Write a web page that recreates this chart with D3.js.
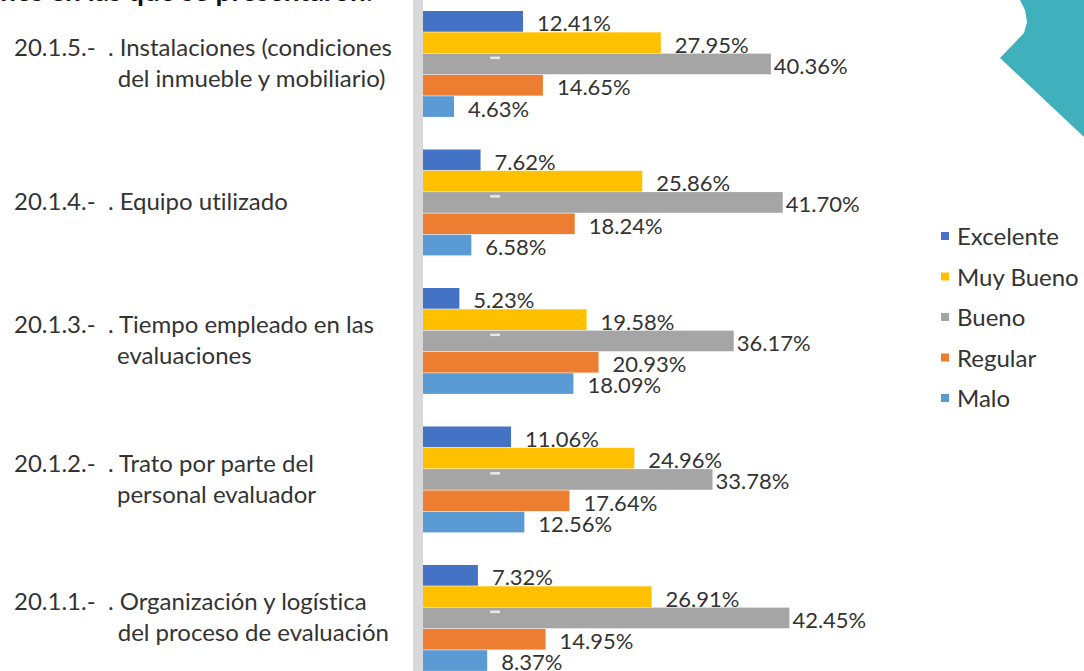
<!DOCTYPE html>
<html>
<head>
<meta charset="utf-8">
<script src="https://cdn.jsdelivr.net/npm/d3@7/dist/d3.min.js"></script>
<style>
  body { margin: 0; background: #fff; }
  svg { display: block; font-family: Lato, "Liberation Sans", sans-serif; font-variant-ligatures: none; }
</style>
</head>
<body>
<svg></svg>
<script>
// data, top group first
var categories = ["20.1.5", "20.1.4", "20.1.3", "20.1.2", "20.1.1"];
var categoryPrefixes = ["20.1.5.-  . ", "20.1.4.-  . ", "20.1.3.-  . ", "20.1.2.-  . ", "20.1.1.-  . "];
var categoryLines = [
  ["Instalaciones (condiciones", "del inmueble y mobiliario)"],
  ["Equipo utilizado"],
  ["Tiempo empleado en las", "evaluaciones"],
  ["Trato por parte del", "personal evaluador"],
  ["Organización y logística", "del proceso de evaluación"]
];
var series = ["Excelente", "Muy Bueno", "Bueno", "Regular", "Malo"];
var excelente = [12.41, 7.62, 5.23, 11.06, 7.32];
var muyBueno = [27.95, 25.86, 19.58, 24.96, 26.91];
var bueno = [40.36, 41.7, 36.17, 33.78, 42.45];
var regular = [14.65, 18.24, 20.93, 17.64, 14.95];
var malo = [4.63, 6.58, 18.09, 12.56, 8.37];
var title = "Condiciones en las que se presentaron:";

var colors = ["#4472C4", "#FFC000", "#A5A5A5", "#ED7D31", "#5B9BD5"];
var seriesValues = [excelente, muyBueno, bueno, regular, malo];

var screen = { width: 1084, height: 671 };

var svg = d3.select("svg").attr("width", screen.width).attr("height", screen.height);

var makeTranslateString = function (x, y) {
  return "translate(" + x + "," + y + ")";
};

//teal corner decoration
svg.append("path")
  .attr("d", "M1020,0 L1025,10 L1027,22 L1024,33 L1000,58 L1084,137 L1084,0 Z")
  .attr("fill", "#41B0BD");

//title, mostly above the top edge of the picture
svg.append("text")
  .attr("x", 373)
  .attr("y", 0.5)
  .attr("text-anchor", "end")
  .attr("font-size", 28)
  .attr("font-weight", "bold")
  .attr("fill", "#111")
  .text(title);

var xScale = d3.scaleLinear().domain([0, 45]).range([413, 812]);

var groupScale = d3.scaleBand()
  .domain(categories)
  .range([11, 671.5])
  .paddingInner(0.231)
  .paddingOuter(0);

var seriesScale = d3.scaleBand()
  .domain(series)
  .range([0, groupScale.bandwidth()]);

var colorScale = d3.scaleOrdinal().domain(series).range(colors);

var rows = categories.map(function (cat, i) {
  return {
    category: cat,
    prefix: categoryPrefixes[i],
    lines: categoryLines[i],
    values: series.map(function (s, j) {
      return { series: s, value: seriesValues[j][i] };
    })
  };
});

var groups = svg.selectAll("g.group")
  .data(rows)
  .enter()
  .append("g")
  .attr("class", "group")
  .attr("transform", function (row) {
    return makeTranslateString(0, groupScale(row.category));
  });

//each bar is followed by its label so the next bar sits on top of it
var entries = groups.selectAll("g.entry")
  .data(function (row) { return row.values; })
  .enter()
  .append("g")
  .attr("class", "entry");

entries.append("rect")
  .attr("x", xScale(0))
  .attr("y", function (d) { return seriesScale(d.series); })
  .attr("width", function (d) { return xScale(d.value) - xScale(0); })
  .attr("height", seriesScale.bandwidth() - 0.6)
  .attr("fill", function (d) { return colorScale(d.series); });

//little light dash that shows on every gray bar
entries.filter(function (d) { return d.series == "Bueno"; })
  .append("rect")
  .attr("x", xScale(8.7))
  .attr("y", function (d) { return seriesScale(d.series) + 3; })
  .attr("width", 10)
  .attr("height", 2.5)
  .attr("fill", "#E8E8E8");

entries.append("text")
  .attr("x", function (d) {
    return xScale(d.value) + (d.series == "Bueno" ? 3 : 14);
  })
  .attr("y", function (d) {
    return seriesScale(d.series) + seriesScale.bandwidth() - 1;
  })
  .attr("font-size", 22)
  .attr("fill", "#333")
  .text(function (d) { return d.value.toFixed(2) + "%"; });

//category labels, the second line hangs under the text after the number
var center = groupScale.bandwidth() / 2;
var labelX = 14;
groups.each(function (row) {
  var g = d3.select(this);
  var twoLines = row.lines.length > 1;
  var first = g.append("text")
    .attr("x", labelX)
    .attr("y", twoLines ? center - 8 : center + 7)
    .attr("font-size", 24)
    .attr("fill", "#333")
    .style("white-space", "pre")
    .text(row.prefix + row.lines[0]);
  if (twoLines) {
    var indent = first.node().getSubStringLength(0, row.prefix.length);
    g.append("text")
      .attr("x", labelX + indent - 2)
      .attr("y", center + 23)
      .attr("font-size", 24)
      .attr("fill", "#333")
      .text(row.lines[1]);
  }
});

//gray vertical axis band drawn over the bar starts
svg.append("rect")
  .attr("x", xScale(0))
  .attr("y", 0)
  .attr("width", 10)
  .attr("height", screen.height)
  .attr("fill", "#D9D9D9");

//legend
var legend = svg.append("g")
  .attr("class", "legend")
  .attr("transform", makeTranslateString(941, 237));

var legendEntries = legend.selectAll("g")
  .data(series)
  .enter()
  .append("g")
  .attr("transform", function (s, i) {
    return makeTranslateString(0, i * 40.5);
  });

legendEntries.append("rect")
  .attr("x", 0)
  .attr("y", -5)
  .attr("width", 8)
  .attr("height", 8)
  .attr("fill", function (s) { return colorScale(s); });

legendEntries.append("text")
  .attr("x", 16)
  .attr("y", 8)
  .attr("font-size", 24)
  .attr("fill", "#333")
  .text(function (s) { return s; });
</script>
</body>
</html>
